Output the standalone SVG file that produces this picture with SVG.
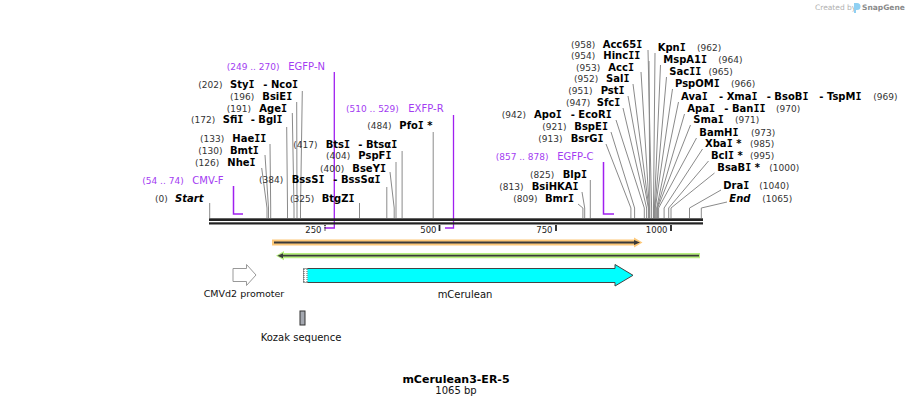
<svg xmlns="http://www.w3.org/2000/svg" width="912" height="407" viewBox="0 0 912 407">
<style>
text{font-family:"DejaVu Sans","Liberation Sans",sans-serif}
.I{font-family:"DejaVu Sans Mono","Liberation Mono",monospace}
.n{font-size:9px;fill:#333}
.e{font-size:10px;font-weight:bold;fill:#000}
.ei{font-size:10px;font-weight:bold;font-style:italic;fill:#000}
.pn{font-size:9px;fill:#a33cf2}
.pt{font-size:10px;fill:#a33cf2}
.ld{stroke:#8a8a8a;stroke-width:1;fill:none}
.pr{stroke:#a020f0;stroke-width:1.5;fill:none}
.tk{font-size:8.5px;fill:#222}
.fl{font-size:10px;fill:#111}
</style>
<rect width="912" height="407" fill="#fff"/>

<g id="credit">
<text x="815" y="10" style="font-size:7.5px;fill:#b0b0b0">Created by</text>
<path d="M854 3 h3 a3.5 3.5 0 0 1 0 7 h-1 v3 h-2 z" fill="#8fd0f2"/>
<text x="862" y="10" style="font-size:7.5px;fill:#8a8a8a;font-weight:bold">SnapGene</text>
</g>

<g id="connectors">
<path class="ld" d="M209.7 203 V218"/>
<path class="ld" d="M261.7 168 L267 208 V218"/>
<path class="ld" d="M265 155 L268.5 208 V218"/>
<path class="ld" d="M270 144 L270.7 208 V218"/>
<path class="ld" d="M286.7 127 L287.5 208 V218"/>
<path class="ld" d="M292.3 113 L294 208 V218"/>
<path class="ld" d="M296.7 102 L297 208 V218"/>
<path class="ld" d="M302.3 91 L300.5 208 V218"/>
<path class="ld" d="M359.5 203 V218"/>
<path class="ld" d="M386.8 187 V218"/>
<path class="ld" d="M390 172 L394.2 208 V218"/>
<path class="ld" d="M396 162 V218"/>
<path class="ld" d="M402.1 151 V218"/>
<path class="ld" d="M433.2 132 V218"/>
<path class="ld" d="M578 204 L582.9 208 V218"/>
<path class="ld" d="M582 192 L584.7 208 V218"/>
<path class="ld" d="M590.3 180 V218"/>
<path class="ld" d="M606 144 L630.9 208 V218"/>
<path class="ld" d="M611 132 L634.6 208 V218"/>
<path class="ld" d="M616 120 L644.3 208 V218"/>
<path class="ld" d="M623 108 L646.6 208 V218"/>
<path class="ld" d="M628 96 L648.4 208 V218"/>
<path class="ld" d="M633 84 L648.9 208 V218"/>
<path class="ld" d="M641 72 L649.3 208 V218"/>
<path class="ld" d="M649 61 L649.8 208 V218"/>
<path class="ld" d="M648 50 L651.6 208 V218"/>
<path class="ld" d="M655 53 L653.5 208 V218"/>
<path class="ld" d="M660.5 65 L654.4 208 V218"/>
<path class="ld" d="M666.5 77 L654.9 208 V218"/>
<path class="ld" d="M672.5 89 L655.3 208 V218"/>
<path class="ld" d="M678.5 102 L656.7 208 V218"/>
<path class="ld" d="M684.5 114 L657.2 208 V218"/>
<path class="ld" d="M690.5 125 L657.6 208 V218"/>
<path class="ld" d="M696.5 138 L658.6 208 V218"/>
<path class="ld" d="M702.5 149 L664.1 208 V218"/>
<path class="ld" d="M708.5 161 L668.7 208 V218"/>
<path class="ld" d="M714.5 173 L671 208 V218"/>
<path class="ld" d="M721 190 L689.5 208 V218"/>
<path class="ld" d="M727 202 L701.3 208 V218"/>
<path class="pr" d="M233.5 186 V214 H243"/>
<path class="pr" d="M334.3 72 V228 H324.5" style="stroke-width:1.3"/>
<path class="pr" d="M453.5 115 V228 H445" style="stroke-width:1.3"/>
<path class="pr" d="M603.5 162 V214 H614"/>
</g>

<g id="map">
<rect x="209" y="218.3" width="494" height="2.7" fill="#222"/>
<rect x="209" y="222.3" width="494" height="2.2" fill="#222"/>
<line x1="325" y1="225" x2="325" y2="231" stroke="#222" stroke-width="1.5" stroke-dasharray="1.2,1"/>
<line x1="439.5" y1="225" x2="439.5" y2="231" stroke="#222" stroke-width="1.8"/>
<line x1="556" y1="225" x2="556" y2="231" stroke="#222" stroke-width="1.8"/>
<line x1="671" y1="225" x2="671" y2="231" stroke="#222" stroke-width="1.8"/>
<text class="tk" x="321.5" y="232.5" text-anchor="end">250</text>
<text class="tk" x="436.5" y="232.5" text-anchor="end">500</text>
<text class="tk" x="552.5" y="232.5" text-anchor="end">750</text>
<text class="tk" x="667.5" y="232.5" text-anchor="end">1000</text>
</g>

<g id="start"><text class="n" x="155" y="201.7">(0)</text><text class="ei" x="175" y="201.7">Start</text></g>
<g id="cmvf"><text class="pn" x="142.3" y="184">(54 .. 74)</text><text class="pt" x="192.3" y="184">CMV-F</text></g>
<g id="nhei"><text class="n" x="195" y="165.7">(126)</text><text class="e" x="227.3" y="165.7">Nhe<tspan class="I">I</tspan></text></g>
<g id="bmti"><text class="n" x="198.3" y="154">(130)</text><text class="e" x="230" y="154">Bmt<tspan class="I">I</tspan></text></g>
<g id="haeii"><text class="n" x="200" y="141.7">(133)</text><text class="e" x="232.3" y="141.7">Hae<tspan class="I">II</tspan></text></g>
<g id="sfii"><text class="n" x="191" y="123.3">(172)</text><text class="e" x="222.7" y="123.3">Sfi<tspan class="I">I</tspan></text><text class="e" x="250.7" y="123.3">- Bgl<tspan class="I">I</tspan></text></g>
<g id="agei"><text class="n" x="226.7" y="111.7">(191)</text><text class="e" x="259.3" y="111.7">Age<tspan class="I">I</tspan></text></g>
<g id="bsiei"><text class="n" x="230" y="100">(196)</text><text class="e" x="262.3" y="100">BsiE<tspan class="I">I</tspan></text></g>
<g id="styi"><text class="n" x="198.3" y="88.3">(202)</text><text class="e" x="230" y="88.3">Sty<tspan class="I">I</tspan></text><text class="e" x="263.3" y="88.3">- Nco<tspan class="I">I</tspan></text></g>
<g id="egfpn"><text class="pn" x="226.7" y="70">(249 .. 270)</text><text class="pt" x="288.3" y="70">EGFP-N</text></g>

<g id="btgzi"><text class="n" x="290" y="201.7">(325)</text><text class="e" x="321.7" y="201.7">BtgZ<tspan class="I">I</tspan></text></g>
<g id="bsssi"><text class="n" x="259" y="183.3">(384)</text><text class="e" x="291.7" y="183.3">BssS<tspan class="I">I</tspan></text><text class="e" x="333.3" y="183.3">- BssSα<tspan class="I">I</tspan></text></g>
<g id="bseyi"><text class="n" x="320" y="171.7">(400)</text><text class="e" x="352.3" y="171.7">BseY<tspan class="I">I</tspan></text></g>
<g id="pspfi"><text class="n" x="326" y="159.3">(404)</text><text class="e" x="358.3" y="159.3">PspF<tspan class="I">I</tspan></text></g>
<g id="btsi"><text class="n" x="293.3" y="147.7">(417)</text><text class="e" x="325.7" y="147.7">Bts<tspan class="I">I</tspan></text><text class="e" x="358.3" y="147.7">- Btsα<tspan class="I">I</tspan></text></g>
<g id="pfoi"><text class="n" x="367.3" y="129">(484)</text><text class="e" x="399.3" y="129">Pfo<tspan class="I">I</tspan> *</text></g>
<g id="exfpr"><text class="pn" x="346" y="111.7">(510 .. 529)</text><text class="pt" x="408.3" y="111.7">EXFP-R</text></g>

<g id="bmri"><text class="n" x="513.3" y="202">(809)</text><text class="e" x="545" y="202">Bmr<tspan class="I">I</tspan></text></g>
<g id="bsihkai"><text class="n" x="499.3" y="190">(813)</text><text class="e" x="531.7" y="190">BsiHKA<tspan class="I">I</tspan></text></g>
<g id="blpi"><text class="n" x="530" y="178">(825)</text><text class="e" x="562.7" y="178">Blp<tspan class="I">I</tspan></text></g>
<g id="egfpc"><text class="pn" x="495.7" y="160">(857 .. 878)</text><text class="pt" x="557.3" y="160">EGFP-C</text></g>
<g id="bsrgi"><text class="n" x="538.3" y="141.7">(913)</text><text class="e" x="570.7" y="141.7">BsrG<tspan class="I">I</tspan></text></g>
<g id="bspei"><text class="n" x="542.3" y="130">(921)</text><text class="e" x="574.3" y="130">BspE<tspan class="I">I</tspan></text></g>
<g id="apoi"><text class="n" x="501.7" y="118">(942)</text><text class="e" x="534" y="118">Apo<tspan class="I">I</tspan></text><text class="e" x="570.7" y="118">- EcoR<tspan class="I">I</tspan></text></g>
<g id="sfci"><text class="n" x="566" y="106">(947)</text><text class="e" x="596.7" y="106">Sfc<tspan class="I">I</tspan></text></g>
<g id="psti"><text class="n" x="568.3" y="94">(951)</text><text class="e" x="600.7" y="94">Pst<tspan class="I">I</tspan></text></g>
<g id="sali"><text class="n" x="574" y="82">(952)</text><text class="e" x="606" y="82">Sal<tspan class="I">I</tspan></text></g>
<g id="acci"><text class="n" x="576" y="70.5">(953)</text><text class="e" x="608.3" y="70.5">Acc<tspan class="I">I</tspan></text></g>
<g id="hincii"><text class="n" x="571" y="59">(954)</text><text class="e" x="603.3" y="59">Hinc<tspan class="I">II</tspan></text></g>
<g id="acc65i"><text class="n" x="571" y="47.5">(958)</text><text class="e" x="602.7" y="47.5">Acc65<tspan class="I">I</tspan></text></g>

<g id="kpni"><text class="e" x="657.7" y="51">Kpn<tspan class="I">I</tspan></text><text class="n" x="697" y="51">(962)</text></g>
<g id="mspa1i"><text class="e" x="663.3" y="63">MspA1<tspan class="I">I</tspan></text><text class="n" x="718.3" y="63">(964)</text></g>
<g id="sacii"><text class="e" x="669.3" y="75">Sac<tspan class="I">II</tspan></text><text class="n" x="708.5" y="75">(965)</text></g>
<g id="pspomi"><text class="e" x="675" y="87">PspOM<tspan class="I">I</tspan></text><text class="n" x="731" y="87">(966)</text></g>
<g id="avai"><text class="e" x="681" y="100">Ava<tspan class="I">I</tspan></text><text class="e" x="719" y="100">- Xma<tspan class="I">I</tspan></text><text class="e" x="766.7" y="100">- BsoB<tspan class="I">I</tspan></text><text class="e" x="819.3" y="100">- TspM<tspan class="I">I</tspan></text><text class="n" x="873.3" y="100">(969)</text></g>
<g id="apai"><text class="e" x="687.3" y="111.7">Apa<tspan class="I">I</tspan></text><text class="e" x="724.3" y="111.7">- Ban<tspan class="I">II</tspan></text><text class="n" x="776" y="111.7">(970)</text></g>
<g id="smai"><text class="e" x="693.3" y="123.3">Sma<tspan class="I">I</tspan></text><text class="n" x="735" y="123.3">(971)</text></g>
<g id="bamhi"><text class="e" x="699.3" y="135.7">BamH<tspan class="I">I</tspan></text><text class="n" x="751" y="135.7">(973)</text></g>
<g id="xbai"><text class="e" x="705" y="147.3">Xba<tspan class="I">I</tspan> *</text><text class="n" x="750" y="147.3">(985)</text></g>
<g id="bcli"><text class="e" x="711" y="159">Bcl<tspan class="I">I</tspan> *</text><text class="n" x="750" y="159">(995)</text></g>
<g id="bsabi"><text class="e" x="717.3" y="171">BsaB<tspan class="I">I</tspan> *</text><text class="n" x="769.3" y="171">(1000)</text></g>
<g id="drai"><text class="e" x="723.3" y="189">Dra<tspan class="I">I</tspan></text><text class="n" x="759.3" y="189">(1040)</text></g>
<g id="end"><text class="ei" x="729.3" y="201.7">End</text><text class="n" x="762.3" y="201.7">(1065)</text></g>

<g id="orange-feature">
<polygon points="272,239.5 634,239.5 634,237.5 642.5,242.5 634,247.5 634,245.5 272,245.5" fill="#fdc878"/>
<line x1="274" y1="242.5" x2="635" y2="242.5" stroke="#3a3a3a" stroke-width="1.8"/>
<polygon points="634,240 640,242.5 634,245" fill="#3a3a3a"/>
</g>
<g id="green-feature">
<polygon points="700,253 284,253 284,251 276,255.7 284,260.3 284,258.3 700,258.3" fill="#b8f080"/>
<line x1="282" y1="255.7" x2="699" y2="255.7" stroke="#3a3a3a" stroke-width="1.8"/>
<polygon points="283,253.2 277.5,255.7 283,258.2" fill="#3a3a3a"/>
</g>
<g id="cmvd2">
<polygon points="233,268.5 246.5,268.5 246.5,264.5 256,275 246.5,285.5 246.5,281.5 233,281.5" fill="#fff" stroke="#999" stroke-width="1"/>
<text class="fl" x="244" y="297" text-anchor="middle" style="font-size:9.5px">CMVd2 promoter</text>
</g>
<g id="mcerulean">
<polygon points="303.5,268.5 615,268.5 615,264.5 633,275.3 615,286 615,282.5 303.5,282.5" fill="#00ffff" stroke="#444" stroke-width="1"/>
<rect x="303.5" y="268.5" width="4" height="14" fill="#fff"/>
<line x1="304" y1="269" x2="304" y2="282" stroke="#333" stroke-width="0.8" stroke-dasharray="1,1"/>
<line x1="307" y1="269" x2="307" y2="282" stroke="#333" stroke-width="0.8" stroke-dasharray="1,1"/>
<text class="fl" x="465" y="297.5" text-anchor="middle">mCerulean</text>
</g>
<g id="kozak">
<rect x="300" y="311" width="5" height="14" fill="#a4a8b0" stroke="#333" stroke-width="1"/>
<text class="fl" x="301" y="341" text-anchor="middle">Kozak sequence</text>
</g>

<g id="title">
<text x="456" y="382.5" text-anchor="middle" style="font-size:11px;font-weight:bold;fill:#000">mCerulean3-ER-5</text>
<text x="456" y="394" text-anchor="middle" style="font-size:10px;fill:#111">1065 bp</text>
</g>
</svg>
